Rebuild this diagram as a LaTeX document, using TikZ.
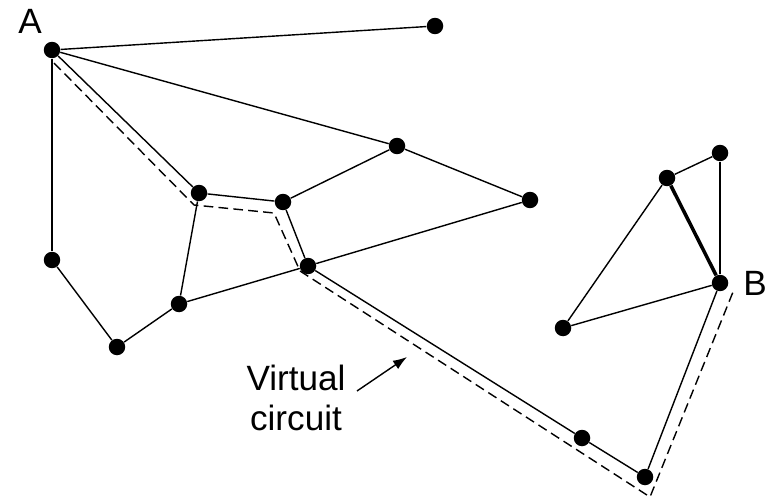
\documentclass[tikz,border=0pt]{standalone}
\usepackage{fontspec}
\setmainfont{Liberation Sans}
\usetikzlibrary{arrows.meta}

\tikzset{
  dot/.style={circle, fill=black, inner sep=0pt, minimum size=0.33cm},
  link/.style={line width=0.8pt},
  heavylink/.style={line width=2pt},
  vcpath/.style={line width=0.8pt, dash pattern=on 5.5pt off 3pt},
  lbl/.style={font=\fontsize{20}{23}\selectfont, inner sep=0pt}
}

\begin{document}
\begin{tikzpicture}[x=0.02cm, y=-0.02cm]
\useasboundingbox (0,0) rectangle (771,500);

\node[dot] (nA) at (52,50) {};
\node[dot] (n1) at (435,26) {};
\node[dot] (n2) at (397,146) {};
\node[dot] (n3) at (530,200) {};
\node[dot] (n4) at (199,193) {};
\node[dot] (n5) at (283,202) {};
\node[dot] (n6) at (308,266) {};
\node[dot] (n7) at (52,260) {};
\node[dot] (n8) at (117,347) {};
\node[dot] (n9) at (179,304) {};
\node[dot] (n10) at (667,178) {};
\node[dot] (n11) at (720,153) {};
\node[dot] (nB) at (720,283) {};
\node[dot] (n12) at (563,328) {};
\node[dot] (n13) at (582,438) {};
\node[dot] (n14) at (645,477) {};

\node[lbl] (lblA) at (30,21) {A};
\node[lbl] (lblB) at (755,283) {B};

\draw[link] (nA) -- (n1);
\draw[link] (nA) -- (n2);
\draw[link] (nA) -- (n4);
\draw[link] (nA) -- (n7);
\draw[link] (n7) -- (n8);
\draw[link] (n8) -- (n9);
\draw[link] (n9) -- (n4);
\draw[link] (n9) -- (n6);
\draw[link] (n6) -- (n3);
\draw[link] (n4) -- (n5);
\draw[link] (n5) -- (n2);
\draw[link] (n2) -- (n3);
\draw[link] (n5) -- (n6);
\draw[link] (n6) -- (n13);
\draw[link] (n13) -- (n14);
\draw[link] (n14) -- (nB);
\draw[link] (nB) -- (n11);
\draw[link] (n11) -- (n10);
\draw[heavylink] (n10) -- (nB);
\draw[link] (n10) -- (n12);
\draw[link] (n12) -- (nB);

% virtual circuit
\coordinate (vc1) at (54,63);
\coordinate (vc2) at (194,205);
\coordinate (vc3) at (274,213);
\coordinate (vc4) at (300,271);
\coordinate (vc5) at (650,497);
\coordinate (vc6) at (733,292);
\draw[vcpath] (vc1) -- (vc2) -- (vc3) -- (vc4) -- (vc5) -- (vc6);

\node[lbl, align=center] (vc) at (296,398) {Virtual\\circuit};
\coordinate (vcfrom) at (357,391);
\coordinate (vcto) at (407,357);
\draw[link, -{Latex[length=0.28cm, width=0.2cm]}] (vcfrom) -- (vcto);

\end{tikzpicture}
\end{document}
